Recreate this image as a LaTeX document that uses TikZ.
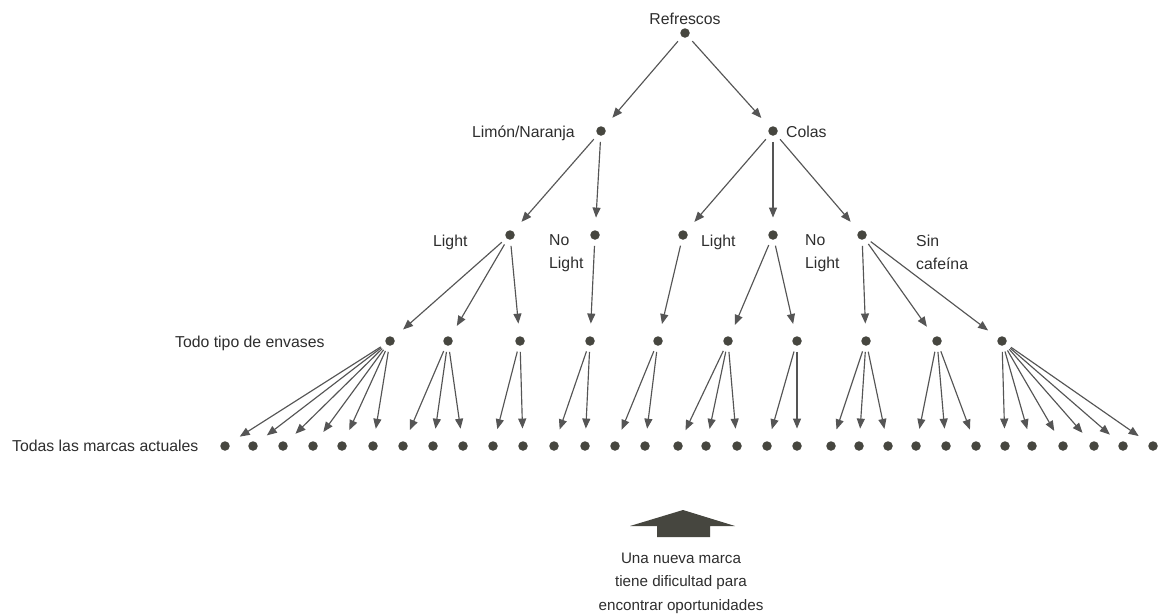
\documentclass[tikz,border=0pt]{standalone}
\usepackage{fontspec}
\setmainfont{Liberation Sans}
\usetikzlibrary{arrows.meta}
\definecolor{ink}{HTML}{2E2E2E}
\definecolor{dotc}{HTML}{46463F}
\definecolor{arrc}{HTML}{555555}
\begin{document}
\begin{tikzpicture}[x=1pt,y=-1pt,
  dotn/.style={circle,fill=dotc,inner sep=0pt,minimum size=9.5pt},
  lbl/.style={text=ink,inner sep=0pt,font=\fontsize{15.8}{23}\selectfont},
  arr/.style={draw=arrc,line width=1.15pt,-{Triangle[length=10pt,width=8pt]},shorten <=6pt,shorten >=12.5pt}]
\useasboundingbox[fill=white] (0,0) rectangle (1159,614);
% dots
\node[dotn] (r) at (685,33) {};
\node[dotn] (ln) at (601,131) {};
\node[dotn] (co) at (773,131) {};
\node[dotn] (l1) at (510,235) {};
\node[dotn] (l2) at (595,235) {};
\node[dotn] (c1) at (683,235) {};
\node[dotn] (c2) at (773,235) {};
\node[dotn] (c3) at (862,235) {};
\foreach \x [count=\i] in {390,448,520,590,658,728,797,866,937,1002}
  \node[dotn] (t\i) at (\x,341) {};
\foreach \x [count=\i from 0] in {225,253,283,313,342,373,403,433,463,493,523,554,585,615,645,678,706,737,767,797,831,859,888,916,946,976,1005,1032,1063,1094,1123,1153}
  \node[dotn] (b\i) at (\x,446) {};
% labels
\node[lbl,anchor=base] (tr) at (685,24) {Refrescos};
\node[lbl,anchor=base east] (tln) at (575,137) {Limón/Naranja};
\node[lbl,anchor=base west] (tco) at (786,137) {Colas};
\node[lbl,anchor=base west] (tl1) at (433,246) {Light};
\node[lbl,anchor=north west,align=left] (tl2) at (549,234.7) {No\\Light};
\node[lbl,anchor=base west] (tc1) at (701,246) {Light};
\node[lbl,anchor=north west,align=left] (tc2) at (805,234.7) {No\\Light};
\node[lbl,anchor=north west,align=left] (tc3) at (916,234.5) {Sin\\cafeína};
\node[lbl,anchor=base west] (tenv) at (175,347) {Todo tipo de envases};
\node[lbl,anchor=base west] (tmar) at (12,451) {Todas las marcas actuales};
% connectors
\foreach \p/\c in {r/ln,r/co,ln/l1,ln/l2,co/c1,co/c2,co/c3,
  l1/t1,l1/t2,l1/t3,l2/t4,c1/t5,c2/t6,c2/t7,c3/t8,c3/t9,c3/t10}
  \draw[arr] (\p) -- (\c);
\foreach \p/\c in {t1/0,t1/1,t1/2,t1/3,t1/4,t1/5,t2/6,t2/7,t2/8,t3/9,t3/10,
  t4/11,t4/12,t5/13,t5/14,t6/15,t6/16,t6/17,t7/18,t7/19,t8/20,t8/21,t8/22,
  t9/23,t9/24,t9/25,t10/26,t10/27,t10/28,t10/29,t10/30,t10/31}
  \draw[arr] (\p) -- (b\c);
% big arrow and note
\fill[dotc] (683,510) -- (735,526) -- (710,526) -- (710,537) -- (657,537)
  -- (657,526) -- (630,526) -- cycle;
\node[lbl,anchor=north,align=center,font=\fontsize{15.2}{23.5}\selectfont] (note) at (681,552.5)
  {Una nueva marca\\tiene dificultad para\\encontrar oportunidades};
\end{tikzpicture}
\end{document}
